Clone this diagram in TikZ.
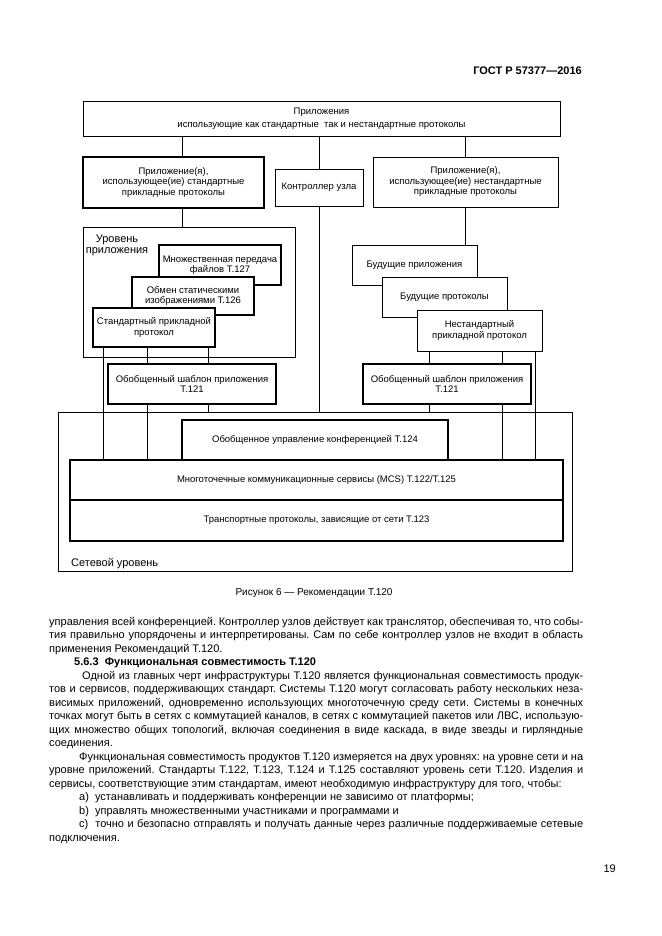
\documentclass[tikz,border=0pt]{standalone}
\usepackage{fontspec}
\setmainfont{Liberation Sans}
\newcommand\jline[2]{\makebox[#1pt][s]{#2}}
\begin{document}
\frenchspacing
\begin{tikzpicture}[x=1pt,y=-1pt,
  bx/.style={draw, line width=0.6pt, fill=white, inner sep=1pt, outer sep=0pt, align=center, font=\fontsize{9.5}{10.5}\selectfont},
  bxk/.style={bx, line width=1.4pt},
  conn/.style={line width=0.7pt},
  ttl/.style={inner sep=0pt, font=\fontsize{11}{11}\selectfont},
  body/.style={anchor=base west, inner sep=0pt, font=\fontsize{11}{13.5}\selectfont}]
\useasboundingbox (0,0) rectangle (661,936);

% header
\node[anchor=base east, inner sep=0pt, font=\fontsize{11}{13}\selectfont\bfseries] (hdr) at (582,75) {ГОСТ Р 57377—2016};

% boxes
\node[bx, minimum width=477, minimum height=35] (top) at (321.5,118.5) {Приложения\\[2pt]использующие как стандартные\ \ так и нестандартные протоколы};
\node[bxk, minimum width=181, minimum height=51] (appStd) at (173.5,182.5) {Приложение(я),\\использующее(ие) стандартные\\прикладные протоколы};
\node[bx, minimum width=88, minimum height=37] (ctrl) at (319,187.5) {Контроллер узла};
\node[bx, minimum width=185, minimum height=50] (appNon) at (465.5,182) {Приложение(я),\\использующее(ие) нестандартные\\прикладные протоколы};

\node[bx, minimum width=212, minimum height=130] (level) at (189,292) {};
\node[ttl, align=center] (levelT) at (117,245) {Уровень\\приложения};
\node[bxk, minimum width=122, minimum height=40] (t127) at (220,265) {Множественная передача\\файлов Т.127};
\node[bxk, minimum width=122, minimum height=38] (t126) at (193,296) {Обмен статическими\\изображениями Т.126};
\node[bxk, minimum width=122, minimum height=39] (std) at (154,327.5) {Стандартный прикладной\\протокол};

\node[bx, minimum width=125, minimum height=40] (futApp) at (414.5,265) {Будущие приложения};
\node[bx, minimum width=125, minimum height=40] (futProt) at (444.5,297) {Будущие протоколы};
\node[bx, minimum width=125, minimum height=41] (nonStd) at (479.5,330.5) {Нестандартный\\прикладной протокол};

\node[bxk, minimum width=168, minimum height=40] (tplL) at (192,384) {Обобщенный шаблон приложения\\Т.121};
\node[bxk, minimum width=168, minimum height=40] (tplR) at (447,384) {Обобщенный шаблон приложения\\Т.121};

\node[bx, line width=1pt, minimum width=514, minimum height=159] (net) at (315,491.5) {};
\node[ttl, anchor=base west] (netT) at (71,566) {Сетевой уровень};
\node[bxk, minimum width=266, minimum height=40] (t124) at (315,440) {Обобщенное управление конференцией Т.124};
\node[bxk, minimum width=493, minimum height=40] (mcs) at (316.5,480) {Многоточечные коммуникационные сервисы (MCS) Т.122/Т.125};
\node[bxk, minimum width=493, minimum height=41] (trans) at (316.5,520.5) {Транспортные протоколы, зависящие от сети Т.123};

% x positions of connectors
\coordinate (xa) at (182,0);
\coordinate (xb) at (465,0);
\coordinate (x1) at (103,0);
\coordinate (x2) at (147,0);
\coordinate (x3) at (208,0);
\coordinate (x4) at (429,0);
\coordinate (x5) at (502,0);
\coordinate (x6) at (535,0);

% connectors
\draw[conn] (top.south -| xa) -- (appStd.north -| xa);
\draw[conn] (appStd.south -| xa) -- (level.north -| xa);
\draw[conn] (top.south -| ctrl.north) -- (ctrl.north);
\draw[conn] (ctrl.south) -- (net.north -| ctrl.south);
\draw[conn] (top.south -| xb) -- (appNon.north -| xb);
\draw[conn] (appNon.south -| xb) -- (futApp.north -| xb);

\draw[conn] (std.south -| x1) -- (mcs.north -| x1);
\draw[conn] (std.south -| x2) -- (tplL.north -| x2);
\draw[conn] (tplL.south -| x2) -- (mcs.north -| x2);
\draw[conn] (std.south -| x3) -- (tplL.north -| x3);
\draw[conn] (tplL.south -| x3) -- (net.north -| x3);

\draw[conn] (nonStd.south -| x4) -- (tplR.north -| x4);
\draw[conn] (tplR.south -| x4) -- (net.north -| x4);
\draw[conn] (nonStd.south -| x5) -- (tplR.north -| x5);
\draw[conn] (tplR.south -| x5) -- (mcs.north -| x5);
\draw[conn] (nonStd.south -| x6) -- (mcs.north -| x6);

% caption
\node[anchor=base, inner sep=0pt, font=\fontsize{10}{12}\selectfont] (cap) at (314,595) {Рисунок 6 — Рекомендации Т.120};

% body text
\node[body] (l1) at (49,625) {\jline{534}{управления всей конференцией. Контроллер узлов действует как транслятор, обеспечивая то, что собы-}};
\node[body] (l2) at (49,638.5) {\jline{534}{тия правильно упорядочены и интерпретированы. Сам по себе контроллер узлов не входит в область}};
\node[body] (l3) at (49,652) {применения Рекомендаций Т.120.};
\node[body, font=\fontsize{11}{13.5}\selectfont\bfseries] (l4) at (74,665.5) {5.6.3\ \ Функциональная совместимость Т.120};
\node[body] (l5) at (82,679) {\jline{501}{Одной из главных черт инфраструктуры Т.120 является функциональная совместимость продук-}};
\node[body] (l6) at (49,692.5) {\jline{534}{тов и сервисов, поддерживающих стандарт. Системы Т.120 могут согласовать работу нескольких неза-}};
\node[body] (l7) at (49,706) {\jline{534}{висимых приложений, одновременно использующих многоточечную среду сети. Системы в конечных}};
\node[body] (l8) at (49,719.5) {\jline{534}{точках могут быть в сетях с коммутацией каналов, в сетях с коммутацией пакетов или ЛВС, использую-}};
\node[body] (l9) at (49,733) {\jline{534}{щих множество общих топологий, включая соединения в виде каскада, в виде звезды и гирляндные}};
\node[body] (l10) at (49,746.5) {соединения.};
\node[body] (l11) at (79,760) {\jline{504}{Функциональная совместимость продуктов Т.120 измеряется на двух уровнях: на уровне сети и на}};
\node[body] (l12) at (49,773.5) {\jline{534}{уровне приложений. Стандарты Т.122, Т.123, Т.124 и Т.125 составляют уровень сети Т.120. Изделия и}};
\node[body] (l13) at (49,787) {сервисы, соответствующие этим стандартам, имеют необходимую инфраструктуру для того, чтобы:};
\node[body] (l14) at (79,800.5) {a)\ \ устанавливать и поддерживать конференции не зависимо от платформы;};
\node[body] (l15) at (79,814) {b)\ \ управлять множественными участниками и программами и};
\node[body] (l16) at (79,827.5) {\jline{504}{c)\ \ точно и безопасно отправлять и получать данные через различные поддерживаемые сетевые}};
\node[body] (l17) at (49,841) {подключения.};

\node[anchor=base east, inner sep=0pt, font=\fontsize{11}{13}\selectfont] (pg) at (616,872) {19};
\end{tikzpicture}
\end{document}
